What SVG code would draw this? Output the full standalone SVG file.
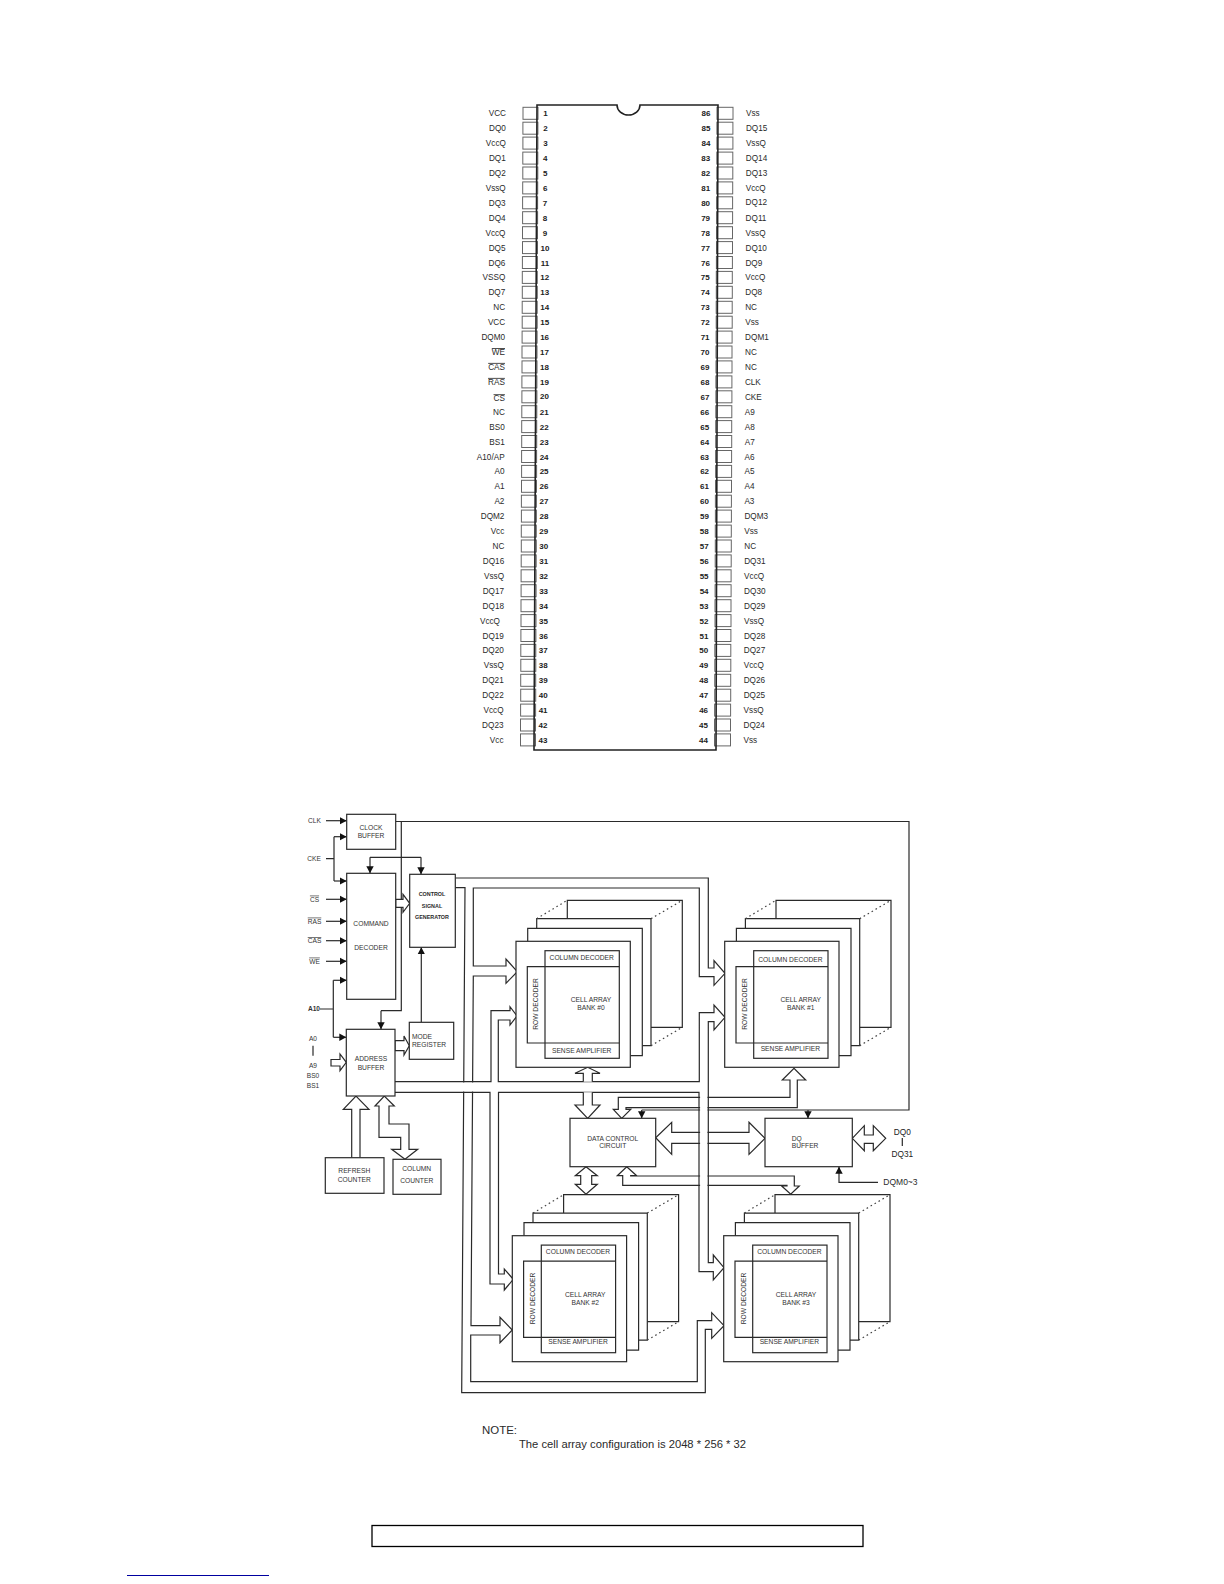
<svg xmlns="http://www.w3.org/2000/svg" width="1224" height="1584" viewBox="0 0 1224 1584">
<style>
text{font-family:"Liberation Sans",Arial,sans-serif;fill:#2a2a2a}
.l{font-size:8.2px;text-anchor:end}
.r{font-size:8.2px}
.n{font-size:8px;font-weight:bold;text-anchor:middle;fill:#222}
.b{fill:#fff;stroke:#666;stroke-width:1}
.k{fill:#fff;stroke:#2a2a2a;stroke-width:1.2}
.w{fill:none;stroke:#2a2a2a;stroke-width:1.2}
.h{fill:#fff;stroke:#2a2a2a;stroke-width:1.2;stroke-linejoin:miter}
.d{fill:none;stroke:#444;stroke-width:1.2;stroke-dasharray:1.6 3}
.a{fill:none;stroke:#2a2a2a;stroke-width:1.2;marker-end:url(#ah)}
.s{font-size:6.7px;text-anchor:middle;fill:#333}
.sl{font-size:6.7px;fill:#333}
.i{font-size:6.6px;text-anchor:middle;fill:#333}
.g{font-size:5.4px;font-weight:bold;text-anchor:middle}
.o{text-decoration:overline}
.m{fill:#fff;stroke:none}
.q{font-size:8.3px;text-anchor:middle;fill:#222}
</style>
<defs>
<marker id="ah" markerUnits="userSpaceOnUse" markerWidth="8" markerHeight="8" refX="7" refY="4" orient="auto"><path d="M0 0.3L7 4L0 7.7Z" fill="#111"/></marker>
<rect id="pl" class="b" x="523" y="-6" width="15" height="12"/>
<rect id="pr" class="b" x="717" y="-6" width="16" height="12"/>
<g id="bank">
<path class="k" d="M567.3 918.7V900.3H682.3V1027.3H651"/>
<path class="k" d="M536.7 928.3V918.7H651V1045.7H642.3"/>
<path class="k" d="M527.7 941.3V928.3H642.3V1055.7H630.3"/>
<path class="d" d="M536.7 918.7L567.3 900.3M651 918.7L682.3 900.3M651 1045.7L682.3 1027.3"/>
<rect class="k" x="516" y="941.3" width="114.3" height="126"/>
<rect class="w" x="545" y="950.7" width="74.3" height="107.6"/>
<path class="w" d="M545 966.7H527.3V1043H619.3M545 966.7H619.3"/>
</g>
</defs>
<rect width="1224" height="1584" fill="#fff"/>

<g id="pins-left">
<g id="pin-1" transform="translate(0,113.3)"><use href="#pl"/><text class="n" x="545.5" y="3">1</text><text class="l" x="506" y="3">VCC</text></g>
<g id="pin-2" transform="translate(-.1,128.2)"><use href="#pl"/><text class="n" x="545.5" y="3">2</text><text class="l" x="506" y="3">DQ0</text></g>
<g id="pin-3" transform="translate(-.1,143.1)"><use href="#pl"/><text class="n" x="545.5" y="3">3</text><text class="l" x="506" y="3">VccQ</text></g>
<g id="pin-4" transform="translate(-.2,158.1)"><use href="#pl"/><text class="n" x="545.5" y="3">4</text><text class="l" x="506" y="3">DQ1</text></g>
<g id="pin-5" transform="translate(-.2,173)"><use href="#pl"/><text class="n" x="545.5" y="3">5</text><text class="l" x="506" y="3">DQ2</text></g>
<g id="pin-6" transform="translate(-.3,187.9)"><use href="#pl"/><text class="n" x="545.5" y="3">6</text><text class="l" x="506" y="3">VssQ</text></g>
<g id="pin-7" transform="translate(-.4,202.8)"><use href="#pl"/><text class="n" x="545.5" y="3">7</text><text class="l" x="506" y="3">DQ3</text></g>
<g id="pin-8" transform="translate(-.4,217.7)"><use href="#pl"/><text class="n" x="545.5" y="3">8</text><text class="l" x="506" y="3">DQ4</text></g>
<g id="pin-9" transform="translate(-.5,232.7)"><use href="#pl"/><text class="n" x="545.5" y="3">9</text><text class="l" x="506" y="3">VccQ</text></g>
<g id="pin-10" transform="translate(-.5,247.6)"><use href="#pl"/><text class="n" x="545.5" y="3">10</text><text class="l" x="506" y="3">DQ5</text></g>
<g id="pin-11" transform="translate(-.6,262.5)"><use href="#pl"/><text class="n" x="545.5" y="3">11</text><text class="l" x="506" y="3">DQ6</text></g>
<g id="pin-12" transform="translate(-.7,277.4)"><use href="#pl"/><text class="n" x="545.5" y="3">12</text><text class="l" x="506" y="3">VSSQ</text></g>
<g id="pin-13" transform="translate(-.7,292.3)"><use href="#pl"/><text class="n" x="545.5" y="3">13</text><text class="l" x="506" y="3">DQ7</text></g>
<g id="pin-14" transform="translate(-.8,307.3)"><use href="#pl"/><text class="n" x="545.5" y="3">14</text><text class="l" x="506" y="3">NC</text></g>
<g id="pin-15" transform="translate(-.8,322.2)"><use href="#pl"/><text class="n" x="545.5" y="3">15</text><text class="l" x="506" y="3">VCC</text></g>
<g id="pin-16" transform="translate(-.9,337.1)"><use href="#pl"/><text class="n" x="545.5" y="3">16</text><text class="l" x="506" y="3">DQM0</text></g>
<g id="pin-17" transform="translate(-1,352)"><use href="#pl"/><text class="n" x="545.5" y="3">17</text><text class="l o" x="506" y="3">WE</text></g>
<g id="pin-18" transform="translate(-1,366.9)"><use href="#pl"/><text class="n" x="545.5" y="3">18</text><text class="l o" x="506" y="3">CAS</text></g>
<g id="pin-19" transform="translate(-1.1,381.9)"><use href="#pl"/><text class="n" x="545.5" y="3">19</text><text class="l o" x="506" y="3">RAS</text></g>
<g id="pin-20" transform="translate(-1.1,396.8)"><use href="#pl"/><text class="n" x="545.5" y="2">20</text><text class="l o" x="506" y="4.5">CS</text></g>
<g id="pin-21" transform="translate(-1.2,411.7)"><use href="#pl"/><text class="n" x="545.5" y="3">21</text><text class="l" x="506" y="3">NC</text></g>
<g id="pin-22" transform="translate(-1.3,426.6)"><use href="#pl"/><text class="n" x="545.5" y="3">22</text><text class="l" x="506" y="3">BS0</text></g>
<g id="pin-23" transform="translate(-1.3,441.5)"><use href="#pl"/><text class="n" x="545.5" y="3">23</text><text class="l" x="506" y="3">BS1</text></g>
<g id="pin-24" transform="translate(-1.4,456.5)"><use href="#pl"/><text class="n" x="545.5" y="3">24</text><text class="l" x="506" y="3">A10/AP</text></g>
<g id="pin-25" transform="translate(-1.4,471.4)"><use href="#pl"/><text class="n" x="545.5" y="3">25</text><text class="l" x="506" y="3">A0</text></g>
<g id="pin-26" transform="translate(-1.5,486.3)"><use href="#pl"/><text class="n" x="545.5" y="3">26</text><text class="l" x="506" y="3">A1</text></g>
<g id="pin-27" transform="translate(-1.6,501.2)"><use href="#pl"/><text class="n" x="545.5" y="3">27</text><text class="l" x="506" y="3">A2</text></g>
<g id="pin-28" transform="translate(-1.6,516.1)"><use href="#pl"/><text class="n" x="545.5" y="3">28</text><text class="l" x="506" y="3">DQM2</text></g>
<g id="pin-29" transform="translate(-1.7,531.1)"><use href="#pl"/><text class="n" x="545.5" y="3">29</text><text class="l" x="506" y="3">Vcc</text></g>
<g id="pin-30" transform="translate(-1.7,546)"><use href="#pl"/><text class="n" x="545.5" y="3">30</text><text class="l" x="506" y="3">NC</text></g>
<g id="pin-31" transform="translate(-1.8,560.9)"><use href="#pl"/><text class="n" x="545.5" y="3">31</text><text class="l" x="506" y="3">DQ16</text></g>
<g id="pin-32" transform="translate(-1.9,575.8)"><use href="#pl"/><text class="n" x="545.5" y="3">32</text><text class="l" x="506" y="3">VssQ</text></g>
<g id="pin-33" transform="translate(-1.9,590.7)"><use href="#pl"/><text class="n" x="545.5" y="3">33</text><text class="l" x="506" y="3">DQ17</text></g>
<g id="pin-34" transform="translate(-2,605.7)"><use href="#pl"/><text class="n" x="545.5" y="3">34</text><text class="l" x="506" y="3">DQ18</text></g>
<g id="pin-35" transform="translate(-2,620.6)"><use href="#pl"/><text class="n" x="545.5" y="3">35</text><text class="l" x="502" y="3">VccQ</text></g>
<g id="pin-36" transform="translate(-2.1,635.5)"><use href="#pl"/><text class="n" x="545.5" y="3">36</text><text class="l" x="506" y="3">DQ19</text></g>
<g id="pin-37" transform="translate(-2.2,650.4)"><use href="#pl"/><text class="n" x="545.5" y="3">37</text><text class="l" x="506" y="3">DQ20</text></g>
<g id="pin-38" transform="translate(-2.2,665.3)"><use href="#pl"/><text class="n" x="545.5" y="3">38</text><text class="l" x="506" y="3">VssQ</text></g>
<g id="pin-39" transform="translate(-2.3,680.3)"><use href="#pl"/><text class="n" x="545.5" y="3">39</text><text class="l" x="506" y="3">DQ21</text></g>
<g id="pin-40" transform="translate(-2.3,695.2)"><use href="#pl"/><text class="n" x="545.5" y="3">40</text><text class="l" x="506" y="3">DQ22</text></g>
<g id="pin-41" transform="translate(-2.4,710.1)"><use href="#pl"/><text class="n" x="545.5" y="3">41</text><text class="l" x="506" y="3">VccQ</text></g>
<g id="pin-42" transform="translate(-2.5,725)"><use href="#pl"/><text class="n" x="545.5" y="3">42</text><text class="l" x="506" y="3">DQ23</text></g>
<g id="pin-43" transform="translate(-2.5,739.9)"><use href="#pl"/><text class="n" x="545.5" y="3">43</text><text class="l" x="506" y="3">Vcc</text></g>
</g>
<g id="pins-right">
<g id="pin-86" transform="translate(0,113.3)"><use href="#pr"/><text class="n" x="706" y="3">86</text><text class="r" x="746" y="3">Vss</text></g>
<g id="pin-85" transform="translate(-.1,128.2)"><use href="#pr"/><text class="n" x="706" y="3">85</text><text class="r" x="746" y="3">DQ15</text></g>
<g id="pin-84" transform="translate(-.1,143.1)"><use href="#pr"/><text class="n" x="706" y="3">84</text><text class="r" x="746" y="3">VssQ</text></g>
<g id="pin-83" transform="translate(-.2,158.1)"><use href="#pr"/><text class="n" x="706" y="3">83</text><text class="r" x="746" y="3">DQ14</text></g>
<g id="pin-82" transform="translate(-.2,173)"><use href="#pr"/><text class="n" x="706" y="3">82</text><text class="r" x="746" y="3">DQ13</text></g>
<g id="pin-81" transform="translate(-.3,187.9)"><use href="#pr"/><text class="n" x="706" y="3">81</text><text class="r" x="746" y="3">VccQ</text></g>
<g id="pin-80" transform="translate(-.4,202.8)"><use href="#pr"/><text class="n" x="706" y="3">80</text><text class="r" x="746" y="2">DQ12</text></g>
<g id="pin-79" transform="translate(-.4,217.7)"><use href="#pr"/><text class="n" x="706" y="3">79</text><text class="r" x="746" y="3">DQ11</text></g>
<g id="pin-78" transform="translate(-.5,232.7)"><use href="#pr"/><text class="n" x="706" y="3">78</text><text class="r" x="746" y="3">VssQ</text></g>
<g id="pin-77" transform="translate(-.5,247.6)"><use href="#pr"/><text class="n" x="706" y="3">77</text><text class="r" x="746" y="3">DQ10</text></g>
<g id="pin-76" transform="translate(-.6,262.5)"><use href="#pr"/><text class="n" x="706" y="3">76</text><text class="r" x="746" y="3">DQ9</text></g>
<g id="pin-75" transform="translate(-.7,277.4)"><use href="#pr"/><text class="n" x="706" y="3">75</text><text class="r" x="746" y="3">VccQ</text></g>
<g id="pin-74" transform="translate(-.7,292.3)"><use href="#pr"/><text class="n" x="706" y="3">74</text><text class="r" x="746" y="3">DQ8</text></g>
<g id="pin-73" transform="translate(-.8,307.3)"><use href="#pr"/><text class="n" x="706" y="3">73</text><text class="r" x="746" y="3">NC</text></g>
<g id="pin-72" transform="translate(-.8,322.2)"><use href="#pr"/><text class="n" x="706" y="3">72</text><text class="r" x="746" y="3">Vss</text></g>
<g id="pin-71" transform="translate(-.9,337.1)"><use href="#pr"/><text class="n" x="706" y="3">71</text><text class="r" x="746" y="3">DQM1</text></g>
<g id="pin-70" transform="translate(-1,352)"><use href="#pr"/><text class="n" x="706" y="3">70</text><text class="r" x="746" y="3">NC</text></g>
<g id="pin-69" transform="translate(-1,366.9)"><use href="#pr"/><text class="n" x="706" y="3">69</text><text class="r" x="746" y="3">NC</text></g>
<g id="pin-68" transform="translate(-1.1,381.9)"><use href="#pr"/><text class="n" x="706" y="3">68</text><text class="r" x="746" y="3">CLK</text></g>
<g id="pin-67" transform="translate(-1.1,396.8)"><use href="#pr"/><text class="n" x="706" y="3">67</text><text class="r" x="746" y="3">CKE</text></g>
<g id="pin-66" transform="translate(-1.2,411.7)"><use href="#pr"/><text class="n" x="706" y="3">66</text><text class="r" x="746" y="3">A9</text></g>
<g id="pin-65" transform="translate(-1.3,426.6)"><use href="#pr"/><text class="n" x="706" y="3">65</text><text class="r" x="746" y="3">A8</text></g>
<g id="pin-64" transform="translate(-1.3,441.5)"><use href="#pr"/><text class="n" x="706" y="3">64</text><text class="r" x="746" y="3">A7</text></g>
<g id="pin-63" transform="translate(-1.4,456.5)"><use href="#pr"/><text class="n" x="706" y="3">63</text><text class="r" x="746" y="3">A6</text></g>
<g id="pin-62" transform="translate(-1.4,471.4)"><use href="#pr"/><text class="n" x="706" y="3">62</text><text class="r" x="746" y="3">A5</text></g>
<g id="pin-61" transform="translate(-1.5,486.3)"><use href="#pr"/><text class="n" x="706" y="3">61</text><text class="r" x="746" y="3">A4</text></g>
<g id="pin-60" transform="translate(-1.6,501.2)"><use href="#pr"/><text class="n" x="706" y="3">60</text><text class="r" x="746" y="3">A3</text></g>
<g id="pin-59" transform="translate(-1.6,516.1)"><use href="#pr"/><text class="n" x="706" y="3">59</text><text class="r" x="746" y="3">DQM3</text></g>
<g id="pin-58" transform="translate(-1.7,531.1)"><use href="#pr"/><text class="n" x="706" y="3">58</text><text class="r" x="746" y="3">Vss</text></g>
<g id="pin-57" transform="translate(-1.7,546)"><use href="#pr"/><text class="n" x="706" y="3">57</text><text class="r" x="746" y="3">NC</text></g>
<g id="pin-56" transform="translate(-1.8,560.9)"><use href="#pr"/><text class="n" x="706" y="3">56</text><text class="r" x="746" y="3">DQ31</text></g>
<g id="pin-55" transform="translate(-1.9,575.8)"><use href="#pr"/><text class="n" x="706" y="3">55</text><text class="r" x="746" y="3">VccQ</text></g>
<g id="pin-54" transform="translate(-1.9,590.7)"><use href="#pr"/><text class="n" x="706" y="3">54</text><text class="r" x="746" y="3">DQ30</text></g>
<g id="pin-53" transform="translate(-2,605.7)"><use href="#pr"/><text class="n" x="706" y="3">53</text><text class="r" x="746" y="3">DQ29</text></g>
<g id="pin-52" transform="translate(-2,620.6)"><use href="#pr"/><text class="n" x="706" y="3">52</text><text class="r" x="746" y="3">VssQ</text></g>
<g id="pin-51" transform="translate(-2.1,635.5)"><use href="#pr"/><text class="n" x="706" y="3">51</text><text class="r" x="746" y="3">DQ28</text></g>
<g id="pin-50" transform="translate(-2.2,650.4)"><use href="#pr"/><text class="n" x="706" y="3">50</text><text class="r" x="746" y="3">DQ27</text></g>
<g id="pin-49" transform="translate(-2.2,665.3)"><use href="#pr"/><text class="n" x="706" y="3">49</text><text class="r" x="746" y="3">VccQ</text></g>
<g id="pin-48" transform="translate(-2.3,680.3)"><use href="#pr"/><text class="n" x="706" y="3">48</text><text class="r" x="746" y="3">DQ26</text></g>
<g id="pin-47" transform="translate(-2.3,695.2)"><use href="#pr"/><text class="n" x="706" y="3">47</text><text class="r" x="746" y="3">DQ25</text></g>
<g id="pin-46" transform="translate(-2.4,710.1)"><use href="#pr"/><text class="n" x="706" y="3">46</text><text class="r" x="746" y="3">VssQ</text></g>
<g id="pin-45" transform="translate(-2.5,725)"><use href="#pr"/><text class="n" x="706" y="3">45</text><text class="r" x="746" y="3">DQ24</text></g>
<g id="pin-44" transform="translate(-2.5,739.9)"><use href="#pr"/><text class="n" x="706" y="3">44</text><text class="r" x="746" y="3">Vss</text></g>
</g>
<g id="chip"><path d="M537 105H617A11.5 10 0 0 0 640 105H718L716 750H534Z" fill="none" stroke="#222" stroke-width="1.6"/></g>

<g id="connectors">
<path class="a" d="M326 820.7H346.7"/>
<path class="w" d="M326 858.7H334M334 836.7V881"/>
<path class="a" d="M334 836.7H346.7"/>
<path class="a" d="M334 881H346.7"/>
<path class="a" d="M326 899.3H346.7"/>
<path class="a" d="M326 921.3H346.7"/>
<path class="a" d="M326 940.7H346.7"/>
<path class="a" d="M326 961.3H346.7"/>
<path class="w" d="M320 1009H333.3M333.3 980.3V1037.3"/>
<path class="a" d="M333.3 980.3H346.7"/>
<path class="a" d="M333.3 1037.3H346.3"/>
<path class="a" d="M370 857.3V873.3"/>
<path class="a" d="M421 857.3V874.3"/>
<path class="w" d="M370 857.3H421"/>
<path class="a" d="M421.3 1022.3V947.3"/>
<path class="w" d="M395.7 821.5H909V1110H641.7"/>
<path class="a" d="M641.7 1110V1118.3"/>
<path class="a" d="M808 1110V1118.3"/>
<path class="w" d="M401.3 821.5V1010.7H381"/>
<path class="a" d="M381 1010.7V1029.3"/>
<path id="bus-control" class="w" d="M455.3 887.7H465L461.7 1392.7H705.3V1329.3H711.7V1338.3L724 1325.7L711.7 1312.7V1320.7H697.3V1381.7H470.7V1335H500V1342.7L512.3 1330L500 1317.3V1325.7H471L473.3 976H506V983.3L517.3 971.7L506 959V966H473.3V888H699.3V976.7H714V985.3L725 973.3L714 960.7V968H708.3V878H455.3"/>
<rect class="m" x="458" y="1082.4" width="19" height="9.2"/>
<path class="h" d="M626 1109.3H630.7L621.7 1118.3L613.3 1109.3H618.3V1097.3H790V1080H782.3L794 1068.3L805.7 1080H797.3V1107.7H626Z"/>
<path class="h" d="M655.7 1137.7L671.7 1122.3V1132.3H749V1122.3L765 1138.3L749 1154.3V1143.3H671.7V1154.3Z"/>
<path class="h" d="M626.7 1166.7L636.7 1175.7H630.7V1176H794.3V1186H799.3L790.7 1194.3L781.7 1186H787V1185.3H622.7V1175.7H617.3Z"/>
<rect class="m" x="700.1" y="1093.5" width="7.4" height="110"/>
<path id="bus-address" class="w" d="M395 1081.7H491V1010.7H510V1006.7L517 1016L510 1025V1020H498.3V1081.7H699.3V1012.7H714V1005L725 1017.3L714 1030V1021.7H708.3V1262.7H713.3V1255L724 1267.7L713.3 1280V1271.7H699V1092.3H498.5V1274H504.3V1269L513.3 1279.3L504.3 1290V1284H490V1092.3H395"/>
<path class="h" d="M395.7 899.3H403V894.3L409.7 903.3L403 912.3V907.3H395.7Z"/>
<path class="h" d="M395 1040.7H404V1036L409.3 1045.7L404 1055V1050.7H395Z"/>
<path class="h" d="M331 1059.5H340V1054L346.3 1062.3L340 1070.7V1066H331Z"/>
<path class="h" d="M351.7 1157.7V1109.3H343.3L356 1096L369 1109.3H360V1157.7"/>
<path class="h" d="M379 1106H375L384.3 1096L394.3 1106H389V1124H409V1149.3H417.7L405 1159.3L391.7 1149.3H400.7V1137.3H379Z"/>
<path class="h" d="M583.3 1081.7V1073.3H575L587.7 1067.3L600 1073.3H592.3V1081.7"/>
<path class="h" d="M583.3 1092.3V1105H575L587.7 1118.3L600 1105H592.3V1092.3"/>
<path class="h" d="M586 1166.7L597.3 1175.7H591.7V1184.3H597.3L586 1194.3L575.3 1184.3H580.7V1175.7H575.3Z"/>
<path class="h" d="M852.3 1138.3L864.3 1125.7V1135H873.3V1125.7L885.7 1138.3L873.3 1150.7V1143.3H864.3V1150.7Z"/>
<path class="a" d="M878 1182.3H839V1166.7"/>
<path class="w" d="M313 1045.7V1055.7M902.3 1138V1146"/>
</g>

<g id="bank-0"><use href="#bank"/><text class="s" x="581.7" y="959.5">COLUMN DECODER</text><text class="s" x="581.7" y="1053.3">SENSE AMPLIFIER</text><text class="s" x="591" y="1002.3">CELL ARRAY</text><text class="s" x="591" y="1010.3">BANK #0</text><text class="s" transform="translate(538.3,1004) rotate(-90)">ROW DECODER</text></g>
<g id="bank-1" transform="translate(208.7,0)"><use href="#bank"/><text class="s" x="581.7" y="962">COLUMN DECODER</text><text class="s" x="581.7" y="1050.5">SENSE AMPLIFIER</text><text class="s" x="592" y="1002.3">CELL ARRAY</text><text class="s" x="592" y="1010.3">BANK #1</text><text class="s" transform="translate(538.3,1004) rotate(-90)">ROW DECODER</text></g>
<g id="bank-2" transform="translate(-3.7,294.4)"><use href="#bank"/><text class="s" x="581.7" y="959.5">COLUMN DECODER</text><text class="s" x="581.7" y="1050">SENSE AMPLIFIER</text><text class="s" x="589" y="1002.3">CELL ARRAY</text><text class="s" x="589" y="1010.3">BANK #2</text><text class="s" transform="translate(538.3,1004) rotate(-90)">ROW DECODER</text></g>
<g id="bank-3" transform="translate(207.7,294.4)"><use href="#bank"/><text class="s" x="581.7" y="959.5">COLUMN DECODER</text><text class="s" x="581.7" y="1050">SENSE AMPLIFIER</text><text class="s" x="588.3" y="1002.3">CELL ARRAY</text><text class="s" x="588.3" y="1010.3">BANK #3</text><text class="s" transform="translate(538.3,1004) rotate(-90)">ROW DECODER</text></g>

<g id="clock-buffer"><rect class="k" x="346.7" y="814.3" width="49" height="35"/><text class="s" x="371" y="830">CLOCK</text><text class="s" x="371" y="838.3">BUFFER</text></g>
<g id="command-decoder"><rect class="k" x="346.7" y="873.3" width="49" height="126"/><text class="s" x="371" y="926.3">COMMAND</text><text class="s" x="371" y="950">DECODER</text></g>
<g id="control-signal-generator"><rect class="k" x="409.7" y="874.3" width="45.6" height="73"/><text class="g" x="432" y="895.6">CONTROL</text><text class="g" x="432" y="907.6">SIGNAL</text><text class="g" x="432" y="918.6">GENERATOR</text></g>
<g id="address-buffer"><rect class="k" x="346.3" y="1029.3" width="48.7" height="66.7"/><text class="s" x="371" y="1061.3">ADDRESS</text><text class="s" x="371" y="1070">BUFFER</text></g>
<g id="mode-register"><rect class="k" x="409.3" y="1022.3" width="44.4" height="37"/><text class="sl" x="412" y="1039.3">MODE</text><text class="sl" x="412" y="1047.3">REGISTER</text></g>
<g id="refresh-counter"><rect class="k" x="325.3" y="1157.7" width="58.7" height="35.6"/><text class="s" x="354.3" y="1173">REFRESH</text><text class="s" x="354.3" y="1181.6">COUNTER</text></g>
<g id="column-counter"><rect class="k" x="393" y="1159.3" width="48" height="35"/><text class="s" x="416.7" y="1171.3">COLUMN</text><text class="s" x="416.7" y="1183">COUNTER</text></g>
<g id="data-control-circuit"><rect class="k" x="570" y="1118.3" width="85.7" height="48.4"/><text class="s" x="612.7" y="1140.6">DATA CONTROL</text><text class="s" x="612.7" y="1148.3">CIRCUIT</text></g>
<g id="dq-buffer"><rect class="k" x="765" y="1118.3" width="87.3" height="48.4"/><text class="sl" x="791.7" y="1140.6">DQ</text><text class="sl" x="791.7" y="1148.3">BUFFER</text></g>

<g id="signal-labels">
<text class="i" x="314.5" y="823">CLK</text>
<text class="i" x="314" y="861">CKE</text>
<text class="i o" x="314.5" y="901.6">CS</text>
<text class="i o" x="314.5" y="923.6">RAS</text>
<text class="i o" x="314.5" y="943">CAS</text>
<text class="i o" x="314.5" y="963.6">WE</text>
<text class="i" x="314" y="1011.3" font-weight="bold">A10</text>
<text class="i" x="313" y="1041.3">A0</text>
<text class="i" x="313" y="1067.6">A9</text>
<text class="i" x="313" y="1077.6">BS0</text>
<text class="i" x="313" y="1087.6">BS1</text>
<text class="q" x="902.3" y="1134.6">DQ0</text>
<text class="q" x="902.3" y="1157">DQ31</text>
<text x="883.3" y="1185.2" font-size="8.5">DQM0~3</text>
</g>

<g id="note">
<text x="482" y="1434" font-size="11.6" textLength="35" lengthAdjust="spacingAndGlyphs">NOTE:</text>
<text x="519" y="1447.7" font-size="11.6" textLength="227" lengthAdjust="spacingAndGlyphs">The cell array configuration is 2048 * 256 * 32</text>
</g>
<g id="footer">
<rect x="372" y="1525.5" width="491" height="21" fill="none" stroke="#000" stroke-width="1.3"/>
<path d="M127 1575.5H269" stroke="#0000a0" stroke-width="1" fill="none"/>
</g>
</svg>
